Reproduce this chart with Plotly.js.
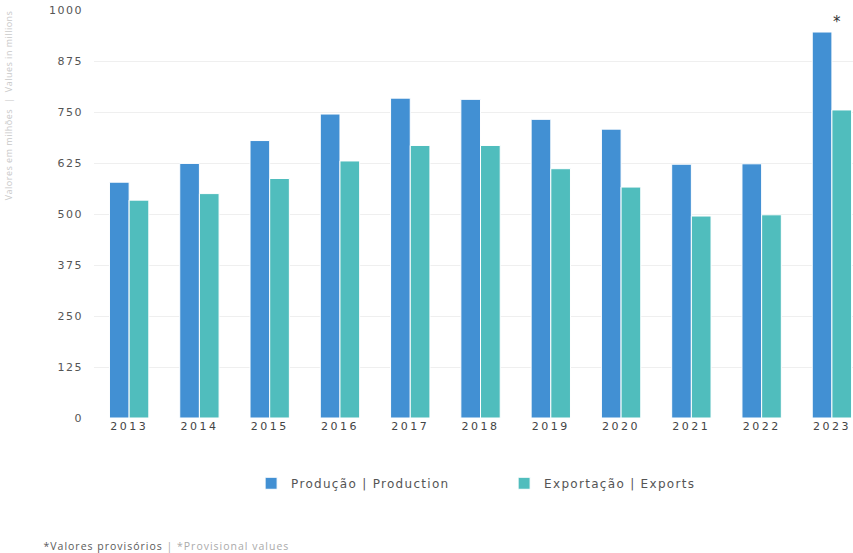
<!DOCTYPE html>
<html>
<head>
<meta charset="utf-8">
<script src="https://cdn.plot.ly/plotly-3.0.1.min.js"></script>
<style>
html,body{margin:0;padding:0;background:#fff;}
#chart{width:853px;height:553px;}
.xtick text{letter-spacing:2.5px;}
.ytick text{letter-spacing:1.5px;}
.legendtext{letter-spacing:1.3px;}
.annotation-text{letter-spacing:0.5px;}
.annotation[data-index="1"] .annotation-text{letter-spacing:1px;}
</style>
</head>
<body>
<div id="chart"></div>
<script>
const years = ['2013','2014','2015','2016','2017','2018','2019','2020','2021','2022','2023'];
const production = [578, 624, 680, 745, 784, 781, 732, 708, 622, 623, 946];
const exportsV = [534, 550, 587, 630, 668, 668, 611, 566, 495, 498, 755];
const yTicks = [0, 125, 250, 375, 500, 625, 750, 875, 1000];
const seriesNames = ['Produção | Production', 'Exportação | Exports'];
const provisionalIndex = 10;

const font = '"DejaVu Sans", sans-serif';

const traces = [
  {type:'bar', x: years, y: production, name: seriesNames[0],
   marker:{color:'#4290d3', line:{color:'#ffffff', width:1}}, hoverinfo:'skip'},
  {type:'bar', x: years, y: exportsV, name: seriesNames[1],
   marker:{color:'#50bdbd', line:{color:'#ffffff', width:1}}, hoverinfo:'skip'}
];

const layout = {
  width: 853, height: 553,
  margin: {l:94, r:0, t:10, b:135},
  paper_bgcolor:'#fff', plot_bgcolor:'#fff',
  barmode:'group', bargap:0.44, bargroupgap:0,
  font:{family:font, color:'#444'},
  showlegend:true,
  legend:{orientation:'h', x:0.207, xanchor:'left', y:-0.16, yanchor:'middle',
          font:{size:12, color:'#555', family:font}, entrywidth:208, itemclick:false},
  xaxis:{type:'category', range:[-0.5, 10.3], showgrid:false, zeroline:false, showline:false,
         ticks:'', tickfont:{size:11, color:'#444', family:font}, fixedrange:true},
  yaxis:{range:[0,1000], tickvals:yTicks, ticktext:yTicks.map(String),
         showgrid:true, gridcolor:'#efefef', gridwidth:1, zeroline:false, showline:false,
         ticks:'', ticklabelstandoff:10, tickfont:{size:11, color:'#555', family:font}, fixedrange:true},
  annotations:[
    {xref:'paper', yref:'paper', x:-0.113, y:0.767, xanchor:'center', yanchor:'middle',
     text:'Valores em milhões  |  Values in millions',
     textangle:-90, showarrow:false, font:{size:9, color:'#c8c8c8', family:'"Open Sans", sans-serif'}},
    {xref:'paper', yref:'paper', x:-0.0555, y:-0.314, xanchor:'left', yanchor:'middle', showarrow:false,
     text:'<span style="color:#5a5a5a">*Valores provisórios</span> <span style="color:#aaa">| *Provisional values</span>',
     font:{size:10.5, family:'"Open Sans", sans-serif'}},
    {x:provisionalIndex, y:production[provisionalIndex], xref:'x', yref:'y',
     text:'*', showarrow:false, xshift:5, yshift:10, xanchor:'center', yanchor:'middle',
     font:{size:15, color:'#333', family:'"DejaVu Sans", sans-serif'}}
  ]
};

Plotly.newPlot('chart', traces, layout, {displayModeBar:false, staticPlot:true});
</script>
</body>
</html>
